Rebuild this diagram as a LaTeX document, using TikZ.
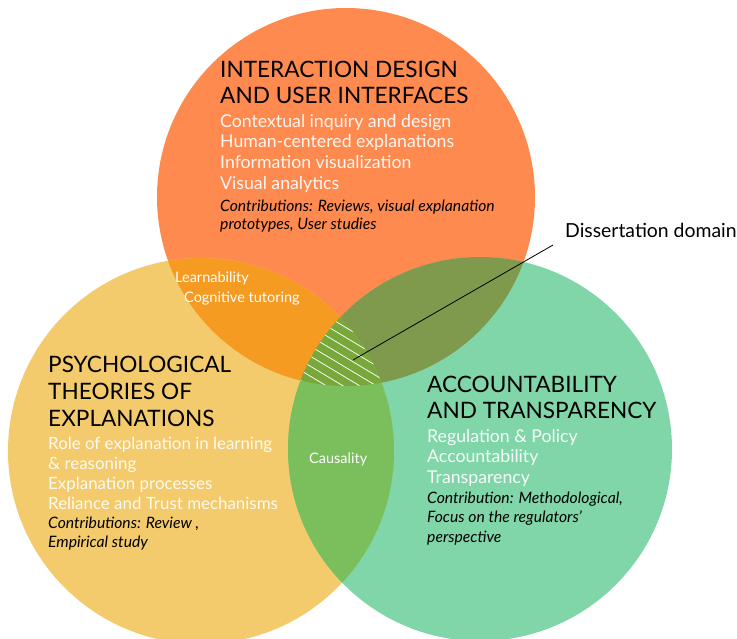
\documentclass[tikz,border=0pt]{standalone}
\usepackage{fontspec}
\setmainfont{Lato}
\usepackage{tikz}
\usetikzlibrary{calc}
\definecolor{ixd}{HTML}{FF8A4F}
\definecolor{psy}{HTML}{F3CA6C}
\definecolor{acc}{HTML}{80D6A8}
\definecolor{ixdpsy}{HTML}{F59B21}
\definecolor{ixdacc}{HTML}{7F9A4D}
\definecolor{psyacc}{HTML}{7BBE5C}
\definecolor{core}{HTML}{78A83C}
\tikzset{
  head/.style={anchor=base west, inner sep=0pt, text=black, font=\fontsize{22.6}{27}\selectfont},
  item/.style={anchor=base west, inner sep=0pt, text=white, text opacity=0.92, font=\fontsize{17.7}{21}\selectfont},
  psyitem/.style={item, font=\fontsize{16.9}{20}\selectfont},
  contrib/.style={anchor=base west, inner sep=0pt, text=black, font=\fontsize{15.7}{19}\selectfont\itshape},
  lens/.style={anchor=base west, inner sep=0pt, text=white, font=\fontsize{14.5}{17}\selectfont},
  note/.style={anchor=base west, inner sep=0pt, text=black, font=\fontsize{19.4}{23}\selectfont},
  leader/.style={draw=black, line width=0.8pt},
  hatch/.style={draw=white, line width=0.7pt}
}

\begin{document}
\begin{tikzpicture}[x=1pt,y=-1pt]
  \useasboundingbox (0,0) rectangle (737,638);
  \clip (0,0) rectangle (737,638);
  \coordinate (O) at (346,197);
  \coordinate (Y) at (201,451);
  \coordinate (G) at (480,449);

  % circles
  \fill[ixd] (O) circle (189pt);
  \fill[psy] (Y) circle (193pt);
  \fill[acc] (G) circle (192pt);
  % overlaps
  \begin{scope}
    \clip (O) circle (189pt);
    \fill[ixdpsy] (Y) circle (193pt);
    \fill[ixdacc] (G) circle (192pt);
  \end{scope}
  \begin{scope}
    \clip (Y) circle (193pt);
    \fill[psyacc] (G) circle (192pt);
  \end{scope}
  \begin{scope}
    \clip (O) circle (189pt);
    \clip (Y) circle (193pt);
    \clip (G) circle (192pt);
    \fill[core] (250,250) rectangle (450,450);
    \foreach \d in {180,190,...,420}
      \draw[hatch] (250,\d) -- ++(200,120);
  \end{scope}

  % interaction design
  \foreach \txt [count=\i] in {INTERACTION DESIGN, AND USER INTERFACES}
    \node[head] (ixd-h\i) at (220,{77+26*(\i-1)}) {\txt};
  \foreach \txt [count=\i] in {Contextual inquiry and design, Human-centered explanations,
      Information visualization, Visual analytics}
    \node[item] (ixd-i\i) at (220,{127+20.7*(\i-1)}) {\txt};
  \foreach \txt [count=\i] in {{Contributions: Reviews, visual explanation}, {prototypes, User studies}}
    \node[contrib] (ixd-c\i) at (220,{211+18.5*(\i-1)}) {\txt};

  % psychological theories
  \foreach \txt [count=\i] in {PSYCHOLOGICAL, THEORIES OF, EXPLANATIONS}
    \node[head] (psy-h\i) at (48,{372+27*(\i-1)}) {\txt};
  \foreach \txt [count=\i] in {Role of explanation in learning, \& reasoning,
      Explanation processes, Reliance and Trust mechanisms}
    \node[psyitem] (psy-i\i) at (48,{449+20*(\i-1)}) {\txt};
  \foreach \txt [count=\i] in {{Contributions: Review ,}, Empirical study}
    \node[contrib] (psy-c\i) at (48,{528+19*(\i-1)}) {\txt};

  % accountability
  \foreach \txt [count=\i] in {ACCOUNTABILITY, AND TRANSPARENCY}
    \node[head] (acc-h\i) at (427,{392+26*(\i-1)}) {\txt};
  \foreach \txt [count=\i] in {Regulation \& Policy, Accountability, Transparency}
    \node[item] (acc-i\i) at (427,{442+20.5*(\i-1)}) {\txt};
  \foreach \txt [count=\i] in {{Contribution: Methodological,}, Focus on the regulators', perspective}
    \node[contrib] (acc-c\i) at (427,{503+19.5*(\i-1)}) {\txt};

  % overlaps
  \node[lens] (learn) at (175,282) {Learnability};
  \node[lens] (tutor) at (184,302) {Cognitive tutoring};
  \node[lens] (cause) at (309,463) {Causality};

  % dissertation domain
  \node[note] (domain) at (565,237) {Dissertation domain};
  \coordinate (domain-end) at (553,245);
  \coordinate (domain-tip) at (353,360);
  \draw[leader] (domain-end) -- (domain-tip);
\end{tikzpicture}
\end{document}
